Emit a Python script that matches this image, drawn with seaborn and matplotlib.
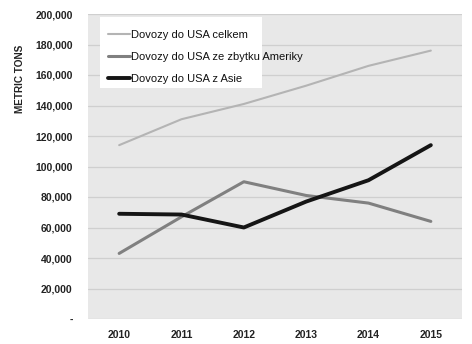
import matplotlib
matplotlib.use("Agg")
import matplotlib.pyplot as plt
from matplotlib.patches import Rectangle
import seaborn as sns
import pandas as pd

years = [2010, 2011, 2012, 2013, 2014, 2015]
total = [114000, 131000, 141000, 153000, 166000, 176000]
americas = [43000, 67000, 90000, 81000, 76000, 64000]
asia = [69000, 68500, 60000, 77000, 91000, 114000]
series_names = ["Dovozy do USA celkem", "Dovozy do USA ze zbytku Ameriky", "Dovozy do USA z Asie"]
colors = ["#b4b4b4", "#808080", "#151515"]
widths = [1.5, 2.2, 2.8]

df = pd.DataFrame({"year": years * 3,
                   "value": total + americas + asia,
                   "series": [series_names[0]] * 6 + [series_names[1]] * 6 + [series_names[2]] * 6})

sns.set_theme(style="white")
plt.rcParams['font.family'] = ['Liberation Sans', 'DejaVu Sans']

fig = plt.figure(figsize=(4.72, 3.44), dpi=100)
ax = fig.add_axes([88/472, 1 - 319/344, (462-88)/472, (319-14)/344])
ax.set_facecolor("#e8e8e8")

for name, c, w in zip(series_names, colors, widths):
    sub = df[df.series == name]
    sns.lineplot(data=sub, x="year", y="value", ax=ax, color=c, linewidth=w, label=name)

ax.set_xlim(2009.5, 2015.5)
ax.set_ylim(0, 200000)
yt = list(range(0, 200001, 20000))
ax.set_yticks(yt)
ax.set_yticklabels(["-"] + [f"{v:,}" for v in yt[1:]], fontsize=7.5, fontweight="bold", color="#222222")
ax.set_xticks(years)
ax.set_xticklabels([str(y) for y in years], fontsize=7.5, fontweight="bold", color="#222222")
ax.grid(axis="y", color="#cfcfcf", linewidth=0.9)
ax.set_axisbelow(True)
for s in ax.spines.values():
    s.set_visible(False)
ax.tick_params(axis="y", length=0, pad=11)
ax.tick_params(axis="x", length=0, pad=8)
ax.set_xlabel("")
ax.set_ylabel("METRIC TONS", fontsize=7.2, fontweight="bold", color="#222222")
ax.yaxis.set_label_coords(-0.168, 0.787)

ax.add_patch(Rectangle((0.032, 0.757), 0.433, 0.233, transform=ax.transAxes,
                       facecolor="white", edgecolor="none", zorder=2.5))
leg = ax.legend(loc="upper left", bbox_to_anchor=(0.025, 0.985), frameon=False, fontsize=8,
                handlelength=1.9, handletextpad=0.1, labelspacing=1.1, borderpad=0.5)
leg.set_zorder(3)
for t in leg.get_texts():
    t.set_color("#111111")

fig.savefig("out.png", dpi=100, facecolor="white")
